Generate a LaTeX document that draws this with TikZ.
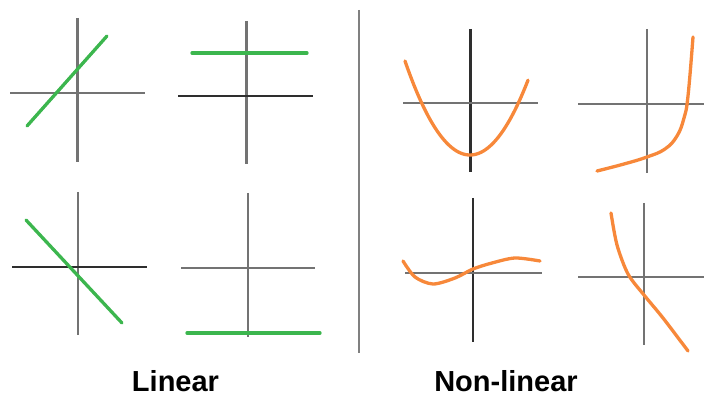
\documentclass[tikz,border=0pt]{standalone}
\usepackage{fontspec}
\setmainfont{Liberation Sans}
\definecolor{linegreen}{RGB}{60,182,78}
\definecolor{curveorange}{RGB}{247,136,58}

\begin{document}
\begin{tikzpicture}[x=1pt, y=-1pt,
    axis/.style={line width=2.7pt, black!55},
    darkaxis/.style={line width=2.7pt, black!82},
    linear/.style={line width=3.3pt, linegreen, line cap=round},
    curve/.style={line width=3.3pt, curveorange, line cap=round},
    caption/.style={font=\fontsize{29}{32}\selectfont\bfseries, anchor=base, inner sep=0pt}]
  \useasboundingbox (0,0) rectangle (704,398);

  % light axes: vertical x / top / bottom, horizontal y / left / right
  \foreach \vx/\vt/\vb/\hy/\hl/\hr in {77.5/18/162/93/10/145, 248/193/337/268/181/315,
                                         647/29/173/104/578/704, 644/203/345/277/578/704} {
    \draw[axis] (\vx,\vt) -- (\vx,\vb);
    \draw[axis] (\hl,\hy) -- (\hr,\hy);
  }
  % axes with a darker horizontal line
  \foreach \vx/\vt/\vb/\hy/\hl/\hr in {246.5/21/164/96/178/313, 78/192/335/267/12/147} {
    \draw[axis] (\vx,\vt) -- (\vx,\vb);
    \draw[darkaxis] (\hl,\hy) -- (\hr,\hy);
  }
  % axes with a darker vertical line
  \foreach \vx/\vt/\vb/\hy/\hl/\hr in {470.5/29/172/103/403/538, 473/198/342/273/405/542} {
    \draw[darkaxis] (\vx,\vt) -- (\vx,\vb);
    \draw[axis] (\hl,\hy) -- (\hr,\hy);
  }

  % divider between the two groups
  \draw[line width=2.2pt, black!50] (359,10) -- (359,353);

  % linear graphs
  \draw[linear] (27,126) -- (107,36);
  \draw[linear] (192,53) -- (307,53);
  \draw[linear] (26,220) -- (122,323);
  \draw[linear] (187,333) -- (320,333);

  % non-linear graphs
  \draw[curve, domain=405:528, samples=80]
       plot (\x, {155 - 0.02225*(\x-470)*(\x-470)});
  \draw[curve] plot[smooth, tension=0.7] coordinates
       {(597,171) (624,164) (647,157) (665,149) (677,136) (684,118) (688,96) (693,37)};
  \draw[curve] plot[smooth] coordinates
       {(403,261) (415,277) (433,284) (455,278) (473,269) (492,263) (515,258) (540,261)};
  \draw[curve] plot[smooth] coordinates
       {(611,213) (617,245) (628,274) (644,295) (663,318) (688,351)};

  % captions
  \node[caption] (linlabel) at (175.5,391.5) {Linear};
  \node[caption] (nonlinlabel) at (506,391.5) {Non-linear};
\end{tikzpicture}
\end{document}
